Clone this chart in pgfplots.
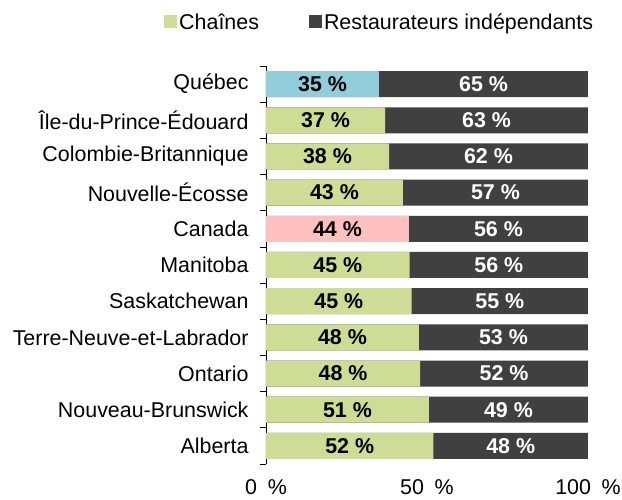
\documentclass[border=0pt]{standalone}
\usepackage{pgfplots}
\pgfplotsset{compat=1.18}
\usepackage{pgfplotstable}
\usepackage{fontspec}
\setmainfont{Liberation Sans}
\definecolor{cgreen}{RGB}{207,220,150}
\definecolor{cdark}{RGB}{64,64,64}
\definecolor{cblue}{RGB}{146,205,220}
\definecolor{cpink}{RGB}{255,192,192}
\newcommand\fs{\fontsize{21.5}{25}\selectfont}
\pgfplotstableread{
y  a     la  ca     lb  cb     t
0  52.0  52  26.00  48  76.00  100
1  50.6  51  25.30  49  75.30  100
2  47.9  48  23.95  52  73.95  100
3  47.5  48  23.75  53  73.75  100
4  45.2  45  22.60  55  72.60  100
5  44.6  45  22.30  56  72.30  100
6  44.4  44  22.20  56  72.20  100
7  42.5  43  21.25  57  71.25  100
8  38.2  38  19.10  62  69.10  100
9  37.0  37  18.50  63  68.50  100
10 35.1  35  17.55  65  67.55  100
}\data
\begin{document}
\begin{tikzpicture}
\useasboundingbox (-266bp,-36bp) rectangle (356bp,464bp);
\begin{axis}[
  at={(0,0)}, anchor=south west,
  scale only axis,
  width=322bp, height=398bp,
  xmin=0, xmax=100, ymin=-0.5, ymax=10.5,
  separate axis lines,
  axis y line*=left,
  axis x line*=bottom,
  x axis line style={draw=none},
  y axis line style={line width=0.8pt},
  xtick={0,50,100},
  xticklabels={0\hspace{0.5em}\%, 50\hspace{0.5em}\%, 100\hspace{0.5em}\%},
  xtick style={draw=none},
  xticklabel style={font=\fs, yshift=-12bp},
  ytick={0,...,10},
  yticklabels={Alberta, Nouveau-Brunswick, Ontario, Terre-Neuve-et-Labrador, Saskatchewan, Manitoba, Canada, Nouvelle-Écosse, Colombie-Britannique, Île-du-Prince-Édouard, Québec},
  yticklabel style={font=\fs, xshift=-14bp},
  major tick length=0pt,
  minor ytick={-0.5,0.5,...,10.5},
  minor tick length=6bp,
  tick align=outside,
  minor tick style={line width=0.8pt, black},
  legend style={draw=none, font=\fs, at={(rel axis cs:-0.316,1.11)}, anchor=west,
    inner sep=0pt, outer sep=0pt,
    legend columns=2, /tikz/every even column/.append style={column sep=48bp}},
  legend image code/.code={\fill[#1] (0bp,-6bp) rectangle (13bp,7bp);},
  clip=false,
]
\addplot[xbar, bar width=26bp, fill=cdark, draw=none, forget plot] table[x=t, y=y] {\data};
\addplot[xbar, bar width=26bp, fill=cgreen, draw=none, forget plot] coordinates {(52.0,0) (50.6,1) (47.9,2) (47.5,3) (45.2,4) (44.6,5) (42.5,7) (38.2,8) (37.0,9)};
\addplot[xbar, bar width=26bp, fill=cpink, draw=none, forget plot] coordinates {(44.4,6)};
\addplot[xbar, bar width=26bp, fill=cblue, draw=none, forget plot] coordinates {(35.1,10)};
\addplot[draw=none, mark=none, forget plot, point meta=explicit symbolic,
  nodes near coords={\textbf{\pgfplotspointmeta~\%}},
  every node near coord/.append style={anchor=center, font=\fs, text=black}]
  table[x=ca, y=y, meta=la] {\data};
\addplot[draw=none, mark=none, forget plot, point meta=explicit symbolic,
  nodes near coords={\textbf{\pgfplotspointmeta~\%}},
  every node near coord/.append style={anchor=center, font=\fs, text=white}]
  table[x=cb, y=y, meta=lb] {\data};
\addlegendimage{fill=cgreen, draw=none}
\addlegendentry{Chaînes}
\addlegendimage{fill=cdark, draw=none}
\addlegendentry{Restaurateurs indépendants}
\end{axis}
\end{tikzpicture}
\end{document}
